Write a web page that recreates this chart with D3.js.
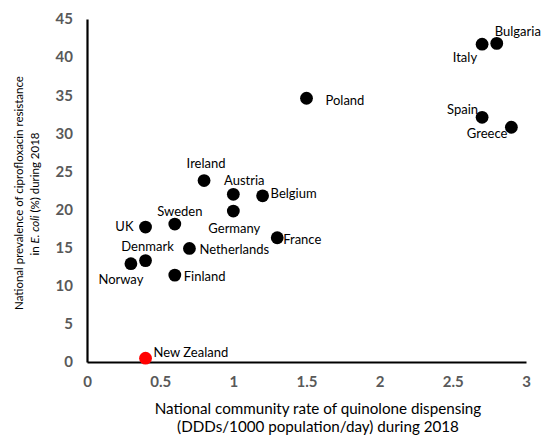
<!DOCTYPE html>
<html>
<head>
<meta charset="utf-8">
<script src="https://cdn.jsdelivr.net/npm/d3@7"></script>
<style>
  html, body { margin: 0; padding: 0; background: #fff; }
  svg { display: block; }
  text { font-family: Lato, "Open Sans", sans-serif; }
</style>
</head>
<body>
<svg id="chart" width="541" height="435"></svg>
<script>
// ---- Data ----
const countries = ["New Zealand","Norway","Denmark","UK","Sweden","Finland","Netherlands","Ireland","Austria","Germany","Belgium","France","Poland","Italy","Bulgaria","Spain","Greece"];
const dispensing = [0.4, 0.3, 0.4, 0.4, 0.6, 0.6, 0.7, 0.8, 1.0, 1.0, 1.2, 1.3, 1.5, 2.7, 2.8, 2.7, 2.9];
const resistance = [0.5, 12.9, 13.3, 17.7, 18.1, 11.4, 14.9, 23.8, 22.0, 19.8, 21.8, 16.3, 34.6, 41.7, 41.8, 32.1, 30.8];
const xTicks = [0, 0.5, 1, 1.5, 2, 2.5, 3];
const yTicks = [0, 5, 10, 15, 20, 25, 30, 35, 40, 45];
const xTitle = ["National community rate of quinolone dispensing", "(DDDs/1000 population/day) during 2018"];
const yTitle1 = "National prevalence of ciprofloxacin resistance";
const highlight = "New Zealand";

// ---- Label placement (style only) ----
const labelPlacement = {
  "New Zealand": [8, -6, "start"],
  "Norway": [-10, 15, "middle"],
  "Denmark": [2, -15, "middle"],
  "UK": [-12, -1, "end"],
  "Sweden": [5, -13, "middle"],
  "Finland": [9, 1, "start"],
  "Netherlands": [10, 1, "start"],
  "Ireland": [2, -18, "middle"],
  "Austria": [11, -14, "middle"],
  "Germany": [1, 17, "middle"],
  "Belgium": [8, -3, "start"],
  "France": [6, 1, "start"],
  "Poland": [19, 2, "start"],
  "Italy": [-5, 13, "end"],
  "Bulgaria": [-2, -12, "start"],
  "Spain": [-4, -8, "end"],
  "Greece": [-4, 6, "end"]
};

const svg = d3.select("#chart");
const x = d3.scaleLinear().domain([0, 3]).range([87, 526]);
const y = d3.scaleLinear().domain([0, 45]).range([362, 19]);

// X axis
const gx = svg.append("g").attr("transform", `translate(0,${y(0)})`)
  .call(d3.axisBottom(x).tickValues(xTicks).tickFormat(d3.format("~g")).tickSize(0).tickPadding(14));
gx.select(".domain").attr("stroke", "#000").attr("stroke-width", 2.2);
gx.selectAll("text").attr("font-size", 15).attr("font-weight", "bold").attr("fill", "#595959")
  .attr("font-family", "Lato, sans-serif");

// Y axis
const gy = svg.append("g").attr("transform", `translate(${x(0)},0)`)
  .call(d3.axisLeft(y).tickValues(yTicks).tickFormat(d3.format("d")).tickSize(0).tickPadding(14));
gy.select(".domain").attr("stroke", "#000").attr("stroke-width", 2.2);
gy.selectAll("text").attr("font-size", 15).attr("font-weight", "bold").attr("fill", "#595959")
  .attr("font-family", "Lato, sans-serif");

// Points
const data = countries.map((c, i) => ({ name: c, x: dispensing[i], y: resistance[i] }));
svg.append("g").selectAll("circle").data(data).join("circle")
  .attr("cx", d => x(d.x)).attr("cy", d => y(d.y)).attr("r", 6.4)
  .attr("fill", d => d.name === highlight ? "#ff0000" : "#000");

// Point labels
svg.append("g").selectAll("text").data(data).join("text")
  .attr("x", d => x(d.x) + labelPlacement[d.name][0])
  .attr("y", d => y(d.y) + labelPlacement[d.name][1])
  .attr("text-anchor", d => labelPlacement[d.name][2])
  .attr("dominant-baseline", "central")
  .attr("font-size", 13).attr("fill", "#000")
  .text(d => d.name);

// X title
svg.append("g").selectAll("text").data(xTitle).join("text")
  .attr("x", 318).attr("y", (d, i) => 408 + i * 18)
  .attr("text-anchor", "middle").attr("dominant-baseline", "central")
  .attr("font-size", 15.2).attr("fill", "#000").text(d => d);

// Y title
svg.append("text").attr("transform", "translate(18,193) rotate(-90)")
  .attr("text-anchor", "middle").attr("dominant-baseline", "central")
  .attr("font-size", 11.5).attr("fill", "#000").text(yTitle1);
const yt2 = svg.append("text").attr("transform", "translate(34,194) rotate(-90)")
  .attr("text-anchor", "middle").attr("dominant-baseline", "central")
  .attr("font-size", 11.5).attr("fill", "#000");
yt2.append("tspan").text("in ");
yt2.append("tspan").attr("font-style", "italic").text("E. coli");
yt2.append("tspan").text(" (%) during 2018");
</script>
</body>
</html>
